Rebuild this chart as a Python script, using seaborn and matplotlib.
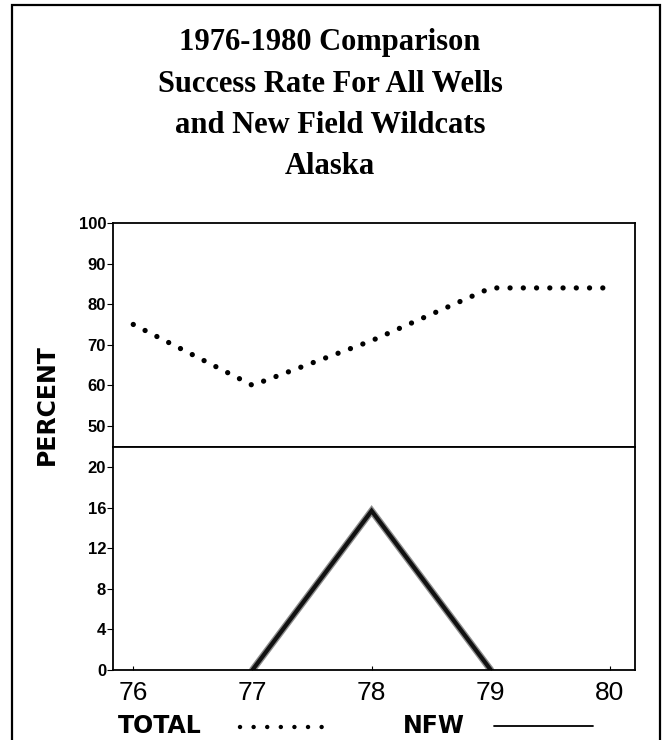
import matplotlib.pyplot as plt
import numpy as np
import pandas as pd
import seaborn as sns
from matplotlib.lines import Line2D
from matplotlib.patches import Rectangle

# Data
years = [76, 77, 78, 79, 80]
total_pct = [75, 60, 71, 84, 84]          # TOTAL, all wells (dotted)
nfw_years = [77, 78, 79]
nfw_pct = [0, 15.7, 0]                    # NFW, new field wildcats (solid)
top_ticks = [50, 60, 70, 80, 90, 100]
bot_ticks = [0, 4, 8, 12, 16, 20]
year_labels = ['76', '77', '78', '79', '80']
title_lines = ['1976-1980 Comparison', 'Success Rate For All Wells',
               'and New Field Wildcats', 'Alaska']

total_df = pd.DataFrame({'year': years, 'pct': total_pct})
nfw_df = pd.DataFrame({'year': nfw_years, 'pct': nfw_pct})

sns.set_style('white')
plt.rcParams['font.family'] = ['DejaVu Sans']
plt.rcParams['text.color'] = 'black'
plt.rcParams['xtick.color'] = 'black'
plt.rcParams['ytick.color'] = 'black'
narrow = ['Liberation Sans Narrow', 'Liberation Sans', 'DejaVu Sans']
serif = ['Liberation Serif', 'DejaVu Serif']

W, H = 662, 740
fig = plt.figure(figsize=(W / 100, H / 100), dpi=100)

# two stacked panels sharing the x range
ax_top = fig.add_axes([113 / W, 1 - 447 / H, 522 / W, 224 / H])
ax_bot = fig.add_axes([113 / W, 1 - 670 / H, 522 / W, 223 / H])

# upper panel: dotted TOTAL line
sns.lineplot(data=total_df, x='year', y='pct', ax=ax_top, color='black',
             lw=3.8, linestyle=(0, (0.01, 2.5)), dash_capstyle='round')
ax_top.set_ylim(44.8, 100)
ax_top.set_yticks(top_ticks)
ax_top.set_xticks([])

# lower panel: solid NFW line (grey halo under black like the scan)
sns.lineplot(data=nfw_df, x='year', y='pct', ax=ax_bot, color='#8c8c8c',
             lw=5, solid_joinstyle='miter')
sns.lineplot(data=nfw_df, x='year', y='pct', ax=ax_bot, color='#111111',
             lw=3, solid_joinstyle='miter')
ax_bot.set_ylim(0, 22)
ax_bot.set_yticks(bot_ticks)
ax_bot.set_xticks(years)
ax_bot.set_xticklabels(year_labels)

for ax in (ax_top, ax_bot):
    ax.set_xlim(75.83, 80.21)
    ax.set_xlabel('')
    ax.set_ylabel('')
    for s in ax.spines.values():
        s.set_visible(True)
        s.set_color('black')
        s.set_linewidth(1.3)
    ax.tick_params(axis='y', direction='out', length=4, width=0.8, pad=1,
                   labelsize=12, colors='black', left=True)
    for lab in ax.get_yticklabels():
        lab.set_fontfamily(narrow)
        lab.set_fontweight('bold')

ax_bot.tick_params(axis='x', direction='in', length=3, width=0.8, pad=8,
                   labelsize=19, bottom=True, colors='black')
for lab in ax_bot.get_xticklabels():
    lab.set_fontfamily(narrow)

# title
for i, line in enumerate(title_lines):
    fig.text(330 / W, 1 - (50 + 41.5 * i) / H, line, ha='center', va='baseline',
             family=serif, weight='bold', size=22, color='black')

fig.text(47 / W, 1 - 405 / H, 'PERCENT', rotation=90, ha='center', va='center',
         weight='bold', size=17, color='black')

# legend drawn by hand under the axis
fig.text(118 / W, 1 - 733 / H, 'TOTAL', ha='left', va='baseline',
         weight='bold', size=17, color='black')
fig.add_artist(Line2D([240 / W, 335 / W], [1 - 727 / H] * 2, transform=fig.transFigure,
                      color='black', lw=3.2, linestyle=(0, (0.01, 3.05)),
                      dash_capstyle='round'))
fig.text(403 / W, 1 - 733 / H, 'NFW', ha='left', va='baseline',
         weight='bold', size=17, color='black')
fig.add_artist(Line2D([494 / W, 593 / W], [1 - 726 / H] * 2, transform=fig.transFigure,
                      color='black', lw=1.3))

# outer frame of the scanned figure
fig.add_artist(Rectangle((12 / W, -0.05), 648 / W, 1.05 - 5 / H,
                         transform=fig.transFigure, fill=False, lw=1.6,
                         ec='black'))

fig.savefig('out.png', dpi=100, facecolor='white')
